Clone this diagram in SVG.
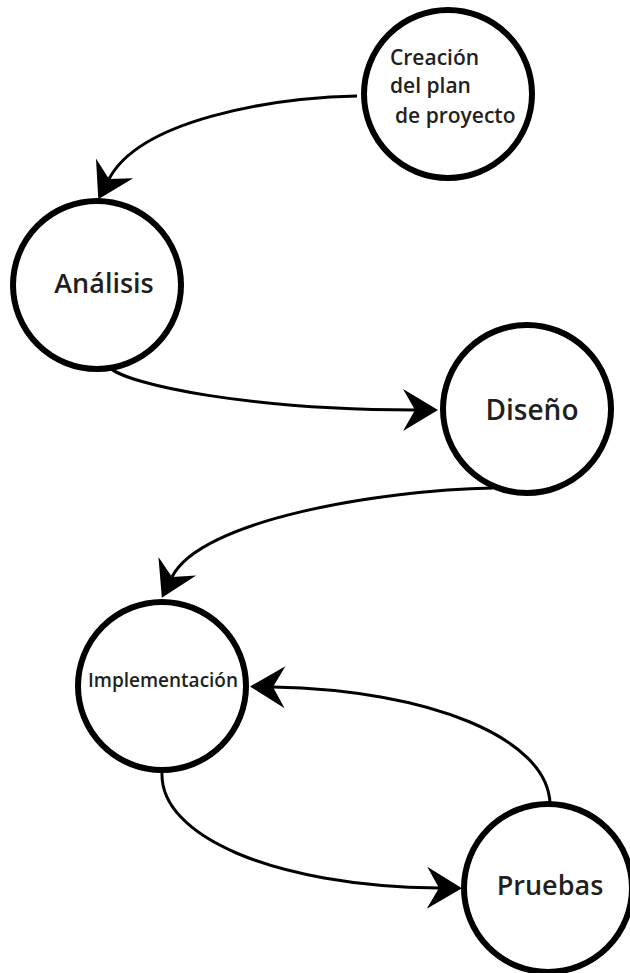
<svg xmlns="http://www.w3.org/2000/svg" width="630" height="973" viewBox="0 0 630 973">
  <style>
    .node circle { fill: #fff; stroke: #000; stroke-width: 6; }
    .node text { font-family: "Open Sans", "Liberation Sans", sans-serif; font-weight: 600; fill: #231f20; }
    .edge { fill: none; stroke: #000; stroke-width: 3; marker-end: url(#head); }
  </style>
  <defs>
    <!-- swept-back arrowhead; path ends at the notch, tip sits 23px ahead -->
    <marker id="head" markerUnits="userSpaceOnUse" markerWidth="60" markerHeight="60" refX="0" refY="0" orient="auto" overflow="visible">
      <path d="M23,0 L-12,-21 L0,0 L-12,21 Z" fill="#000"/>
    </marker>
  </defs>

  <g id="connectors">
    <path class="edge" d="M357,96 C270,98 140,120 109,179"/>
    <path class="edge" d="M110,368 C130,385 250,410 415,410"/>
    <path class="edge" d="M493,488 C380,490 200,520 172,577"/>
    <path class="edge" d="M550,803 C547,738 430,690 273,687"/>
    <path class="edge" d="M162,773 C160,835 270,886 439,888"/>
  </g>

  <g id="node-plan" class="node">
    <circle cx="448" cy="94" r="84"/>
    <text font-size="21"><tspan x="390" y="65">Creación</tspan><tspan x="390" y="93">del plan</tspan><tspan x="395" y="123">de proyecto</tspan></text>
  </g>
  <g id="node-analisis" class="node">
    <circle cx="97" cy="285" r="84"/>
    <text x="104" y="293" font-size="27" text-anchor="middle">Análisis</text>
  </g>
  <g id="node-diseno" class="node">
    <circle cx="527" cy="409" r="84"/>
    <text x="532" y="420" font-size="28" text-anchor="middle">Diseño</text>
  </g>
  <g id="node-implementacion" class="node">
    <circle cx="162" cy="686" r="84"/>
    <text x="163" y="687" font-size="19" text-anchor="middle">Implementación</text>
  </g>
  <g id="node-pruebas" class="node">
    <circle cx="548" cy="888" r="84"/>
    <text x="550" y="895" font-size="27" text-anchor="middle">Pruebas</text>
  </g>
</svg>
